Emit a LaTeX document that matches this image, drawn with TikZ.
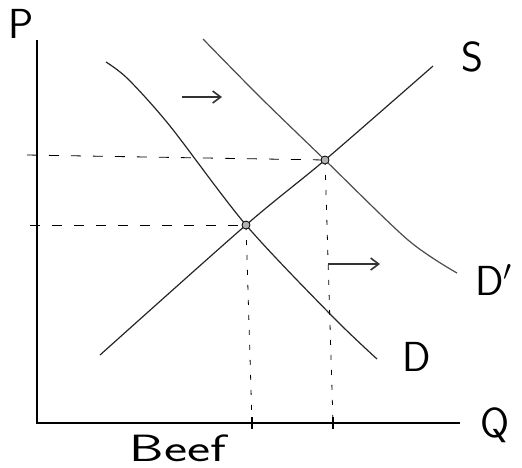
\documentclass[tikz,border=0pt]{standalone}
\usepackage{tikz}
\usetikzlibrary{arrows.meta,positioning,calc}

\tikzset{
    curve/.style={semithick,black!85},
    guide/.style={thin,dash pattern=on 5pt off 6pt},
    drop/.style={thin,dash pattern=on 2.5pt off 5pt},
    shiftarrow/.style={->,thick,black!80},
    lbl/.style={inner sep=0pt,font=\sffamily\fontsize{21}{25}\selectfont}
}

\begin{document}
\begin{tikzpicture}[>={Straight Barb[length=4pt,width=6pt]},x=0.5pt,y=-0.5pt,semithick]
    \useasboundingbox (0,0) rectangle (522,467);
    % axes
    \coordinate (ptop) at (37,40);
    \coordinate (origin) at (37,423);
    \coordinate (qend) at (460,423);
    \draw[thick] (ptop) -- (origin) -- (qend);
    \node[lbl] (plabel) at (21,24) {P};
    \node[lbl] (qlabel) at (495,425) {Q};
    \node[lbl,xscale=1.45,font=\sffamily\fontsize{19}{23}\selectfont] (beeflabel) at (178,448) {Beef};
    % equilibria
    \coordinate (eqone) at (246,225);
    \coordinate (eqtwo) at (325,160);
    % supply and demand
    \draw[curve] plot[smooth,tension=0.5] coordinates {(100,355) (eqone) (eqtwo) (433,66)};
    \draw[curve] plot[smooth,tension=0.5] coordinates {(106,62) (128,79) (170,126) (eqone) (332,316) (377,359)};
    \draw[curve,black!70] plot[smooth,tension=0.5] coordinates {(203,39) (260,97) (eqtwo) (408,240) (457,273)};
    \node[lbl] (slabel) at (472,57) {S};
    \node[lbl] (dlabel) at (417,357) {D};
    \node[lbl] (dnewlabel) at (494,280) {D$^{\prime}$};
    % price and quantity guides
    \coordinate (pone) at (30,225);
    \coordinate (ptwo) at (27,155);
    \coordinate (qone) at (252,423);
    \coordinate (qtwo) at (333,423);
    \draw[guide] (ptwo) -- (eqtwo);
    \draw[guide] (pone) -- (eqone);
    \draw[drop] (eqone) -- (qone);
    \draw[drop] (eqtwo) -- (qtwo);
    \foreach \q in {qone,qtwo}
        \draw[thick] ($(\q)+(0,-6)$) -- ($(\q)+(0,6)$);
    \foreach \e in {eqone,eqtwo}
        \draw[thin,fill=black!30] (\e) circle (4);
    % shift of demand
    \coordinate (shiftastart) at (182,97);
    \coordinate (shiftaend) at (222,97);
    \coordinate (shiftbstart) at (328,264);
    \coordinate (shiftbend) at (380,264);
    \draw[shiftarrow] (shiftastart) -- (shiftaend);
    \draw[shiftarrow] (shiftbstart) -- (shiftbend);
\end{tikzpicture}
\end{document}
